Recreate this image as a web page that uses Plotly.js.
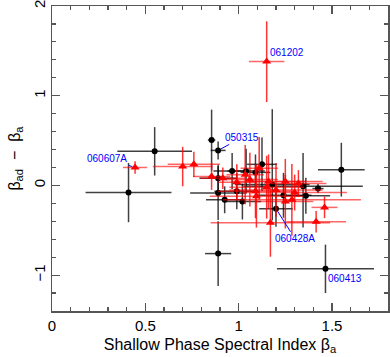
<!DOCTYPE html>
<html>
<head>
<meta charset="utf-8">
<script src="https://cdn.plot.ly/plotly-3.0.1.min.js"></script>
<style>html,body{margin:0;padding:0;background:#fff;}#chart{width:390px;height:357px;}</style>
</head>
<body>
<div id="chart"></div>
<script>
// Black circles (earlier sample)
const blackX     = [0.55, 0.41, 0.855, 0.89, 0.89, 0.965, 0.89, 0.925, 0.99, 1.02, 1.04, 1.09, 1.125, 1.18, 1.24, 1.345, 1.36, 1.425, 1.55, 1.20, 0.89, 1.465];
const blackY     = [0.38, -0.08, 0.505, 0.39, 0.08, 0.16, -0.085, -0.16, -0.065, -0.18, 0.16, 0.145, 0.235, 0.01, -0.11, -0.01, -0.115, -0.035, 0.175, -0.26, -0.76, -0.93];
const blackXErr  = [0.20, 0.23, 0.02, 0.04, 0.10, 0.10, 0.15, 0.10, 0.12, 0.10, 0.10, 0.08, 0.08, 0.20, 0.15, 0.32, 0.13, 0.03, 0.125, 0.09, 0.07, 0.26];
const blackYErrP = [0.27, 0.33, 0.34, 0.10, 0.15, 0.20, 0.30, 0.15, 0.20, 0.20, 0.25, 0.20, 0.30, 0.84, 0.25, 0.37, 0.20, 0.05, 0.30, 0.20, 0.36, 0.27];
const blackYErrM = [0.27, 0.33, 0.34, 0.10, 0.15, 0.20, 0.30, 0.15, 0.20, 0.20, 0.25, 0.20, 0.30, 0.40, 0.25, 0.46, 0.20, 0.05, 0.30, 0.20, 0.36, 0.27];

// Red triangles
const redX    = [0.445, 0.70, 0.76, 0.855, 0.915, 0.99, 1.035, 1.06, 1.11, 1.09, 1.095, 1.16, 1.15, 1.20, 1.25, 1.25, 1.285, 1.30, 1.32, 1.46, 1.415, 1.17, 1.15];
const redY    = [0.20, 0.21, 0.235, 0.10, 0.08, 0.035, 0.12, 0.065, 0.19, -0.065, -0.12, 0.045, -0.02, -0.05, 0.045, -0.18, -0.16, -0.08, 0.02, -0.245, -0.405, -0.415, 1.38];
const redXErr = [0.065, 0.16, 0.14, 0.10, 0.12, 0.10, 0.10, 0.15, 0.10, 0.20, 0.25, 0.20, 0.20, 0.25, 0.20, 0.15, 0.37, 0.28, 0.15, 0.07, 0.16, 0.32, 0.095];
const redYErr = [0.07, 0.22, 0.14, 0.15, 0.12, 0.20, 0.33, 0.30, 0.35, 0.30, 0.35, 0.30, 0.35, 0.30, 0.25, 0.30, 0.40, 0.20, 0.15, 0.12, 0.12, 0.38, 0.45];

// Labels
const labelText = ["061202", "050315", "060607A", "060428A", "060413"];
const labelX    = [1.15, 0.89, 0.445, 1.20, 1.465];
const labelY    = [1.38, 0.39, 0.20, -0.26, -0.93];
const labelAx   = [20, 24, -28, 19, 20];
const labelAy   = [-9, -13, -9, 30, 10];
const labelArrow= [false, true, true, true, false];

// Axis ticks
const xTickVals = [0, 0.5, 1, 1.5];
const xTickText = ["0", "0.5", "1", "1.5"];
const yTickVals = [-1, 0, 1, 2];
const yTickText = ["−1", "0", "1", "2"];

const font = "Liberation Sans, Arial, sans-serif";

const traces = [
  {
    type: "scatter", mode: "markers", x: blackX, y: blackY,
    marker: {color: "#000", size: 6, symbol: "circle"},
    error_x: {type: "data", array: blackXErr, color: "rgba(0,0,0,0.75)", thickness: 1.5, width: 0},
    error_y: {type: "data", symmetric: false, array: blackYErrP, arrayminus: blackYErrM, color: "rgba(0,0,0,0.75)", thickness: 1.5, width: 0},
    hoverinfo: "skip"
  },
  {
    type: "scatter", mode: "markers", x: redX, y: redY,
    marker: {color: "#ff0000", size: 8, symbol: "triangle-up"},
    error_x: {type: "data", array: redXErr, color: "rgba(255,0,0,0.6)", thickness: 1.5, width: 0},
    error_y: {type: "data", array: redYErr, color: "rgba(255,0,0,0.8)", thickness: 1.5, width: 0},
    hoverinfo: "skip"
  }
];

const annotations = labelText.map((t, i) => ({
  x: labelX[i], y: labelY[i], xref: "x", yref: "y",
  text: t, showarrow: true,
  ax: labelAx[i], ay: labelAy[i],
  arrowhead: 0, arrowwidth: 1, arrowcolor: labelArrow[i] ? "#0000ff" : "rgba(0,0,0,0)",
  standoff: 3,
  font: {family: font, size: 10, color: "#0000ff"}
}));

const axisCommon = {
  showgrid: false, zeroline: false, showline: true, mirror: "allticks",
  linecolor: "#555", linewidth: 1.5, ticks: "inside", tickcolor: "#555",
  tickwidth: 1.2, ticklen: 8, ticklabeloverflow: "allow",
  tickfont: {family: font, size: 15, color: "#000"}
};

const layout = {
  width: 390, height: 357,
  margin: {l: 52, r: 2, t: 6, b: 46},
  paper_bgcolor: "#fff", plot_bgcolor: "#fff",
  showlegend: false,
  xaxis: Object.assign({}, axisCommon, {
    range: [0, 1.8], tickmode: "array", tickvals: xTickVals, ticktext: xTickText,
    minor: {dtick: 0.1, tick0: 0, ticks: "inside", ticklen: 4, tickcolor: "#555", tickwidth: 1.2},
    title: {text: "Shallow Phase Spectral Index β<sub>a</sub>", font: {family: font, size: 16, color: "#000"}, standoff: 6}
  }),
  yaxis: Object.assign({}, axisCommon, {
    range: [-1.4, 2], tickmode: "array", tickvals: yTickVals, ticktext: yTickText, tickangle: -90,
    minor: {dtick: 0.2, tick0: 0, ticks: "inside", ticklen: 4, tickcolor: "#555", tickwidth: 1.2},
    title: {text: "β<sub>ad</sub>  −  β<sub>a</sub>", font: {family: font, size: 16, color: "#000"}, standoff: 6}
  }),
  annotations: annotations
};

Plotly.newPlot("chart", traces, layout, {staticPlot: true, displayModeBar: false});
</script>
</body>
</html>
